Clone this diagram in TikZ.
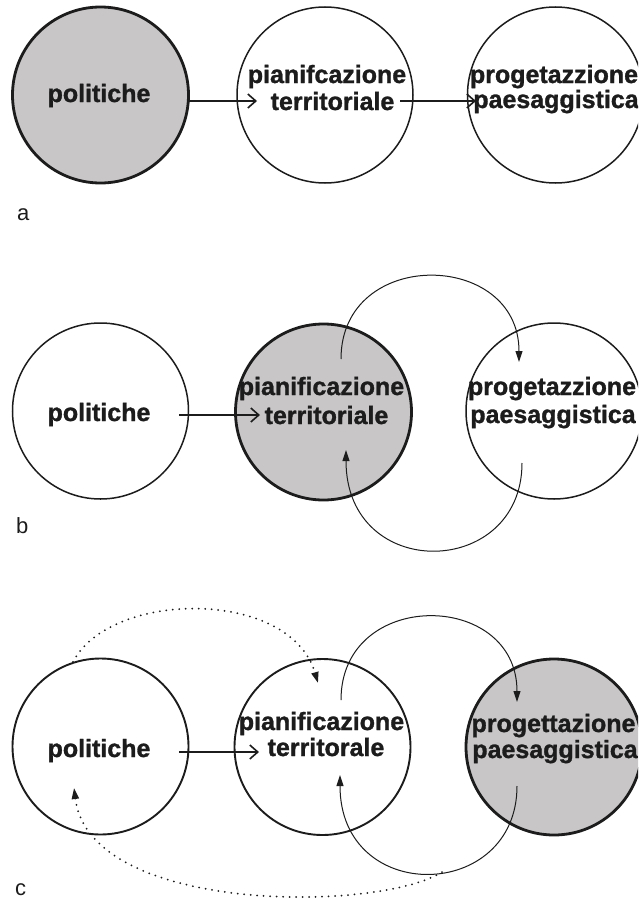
\documentclass[tikz,border=0pt]{standalone}
\usepackage{fontspec}
\setmainfont{Liberation Sans}
\newfontfamily\heavyfont{Liberation Sans Bold}[FakeBold=1.2]
\usetikzlibrary{arrows.meta}
\definecolor{fillgray}{RGB}{200,198,198}
\definecolor{ink}{RGB}{28,28,28}
\begin{document}
\begin{tikzpicture}[x=1pt,y=-1pt,
 circw/.style={circle, draw=ink, line width=1.5pt, minimum size=176pt, inner sep=0pt, fill=white},
 circg/.style={circle, draw=ink, line width=2.8pt, minimum size=176pt, inner sep=0pt, fill=fillgray},
 lbl/.style={font=\fontsize{25}{25}\heavyfont, text=ink, inner sep=0pt, anchor=base},
 panellbl/.style={font=\fontsize{22}{22}\selectfont, text=ink, inner sep=0pt, anchor=base west},
 sarrow/.style={line width=1.6pt, draw=ink, -{Straight Barb[length=8pt,width=14pt]}},
 carrow/.style={line width=1pt, draw=ink, -{Triangle[length=11pt,width=7pt]}},
 darrow/.style={line width=2pt, draw=ink, dash pattern=on 0pt off 6.5pt, line cap=round, -{Triangle[length=11pt,width=7pt]}},
]
\useasboundingbox (0,0) rectangle (638,899);
\clip (0,0) rectangle (638,899);
\fill[white] (0,0) rectangle (638,899);

% ---------- panel a ----------
\node[circg] (a1) at (100.5,95) {};
\node[circw] (a2) at (325,95) {};
\node[circw] (a3) at (555.5,95) {};
\node[lbl] (a1t) at (99,102) {politiche};
\node[lbl] (a2t1) at (327,83) {pianifcazione};
\node[lbl] (a2t2) at (332.5,110) {territoriale};
\node[lbl] (a3t1) at (554,83) {progetazzione};
\node[lbl] (a3t2) at (556,108) {paesaggistica};
\coordinate (a12s) at (189,101);
\coordinate (a12e) at (257,101);
\coordinate (a23s) at (400,101);
\coordinate (a23e) at (476,101);
\draw[sarrow] (a12s) -- (a12e);
\draw[sarrow] (a23s) -- (a23e);
\node[panellbl] (la) at (17,220) {a};

% ---------- panel b ----------
\node[circw] (b1) at (100.5,411) {};
\node[circg] (b2) at (323.5,412) {};
\node[circw] (b3) at (554,411) {};
\node[lbl] (b1t) at (99,421) {politiche};
\node[lbl] (b2t1) at (321.5,395) {pianificazione};
\node[lbl] (b2t2) at (326.5,424) {territoriale};
\node[lbl] (b3t1) at (552,395) {progetazzione};
\node[lbl] (b3t2) at (553,423) {paesaggistica};
\coordinate (b12s) at (179,415);
\coordinate (b12e) at (260,415);
\draw[sarrow] (b12s) -- (b12e);
\coordinate (b23s) at (341,359);
\coordinate (b23e) at (519,362);
\coordinate (b32s) at (522,463);
\coordinate (b32e) at (346,450);
\draw[carrow] (b23s) .. controls (341,247) and (519,250) .. (b23e);
\draw[carrow] (b32s) .. controls (522,579) and (346,583) .. (b32e);
\node[panellbl] (lb) at (16,533) {b};

% ---------- panel c ----------
\node[circw, line width=1.9pt] (c1) at (100.5,746.5) {};
\node[circw, line width=1.9pt] (c2) at (322.5,747) {};
\node[circg] (c3) at (554,747) {};
\node[lbl] (c1t) at (99,757) {politiche};
\node[lbl] (c2t1) at (321.5,730) {pianificazione};
\node[lbl] (c2t2) at (326,756) {territorale};
\node[lbl] (c3t1) at (553.5,732) {progettazione};
\node[lbl] (c3t2) at (555,758) {paesaggistica};
\coordinate (c12s) at (179,752);
\coordinate (c12e) at (259,752);
\draw[sarrow] (c12s) -- (c12e);
\coordinate (c23s) at (341,700);
\coordinate (c23e) at (517,702);
\coordinate (c32s) at (517,786);
\coordinate (c32e) at (340,775);
\draw[carrow] (c23s) .. controls (341,588) and (517,590) .. (c23e);
\draw[carrow] (c32s) .. controls (517,902) and (340,906) .. (c32e);
\coordinate (cdte) at (318,683);
\coordinate (cdbs) at (442,872);
\coordinate (cdbe) at (74,788);
\draw[darrow] (c1.108) .. controls (110,590) and (290,588) .. (cdte);
\draw[darrow] (cdbs) .. controls (380,912) and (90,915) .. (cdbe);
\node[panellbl] (lc) at (15,895) {c};
\end{tikzpicture}
\end{document}
